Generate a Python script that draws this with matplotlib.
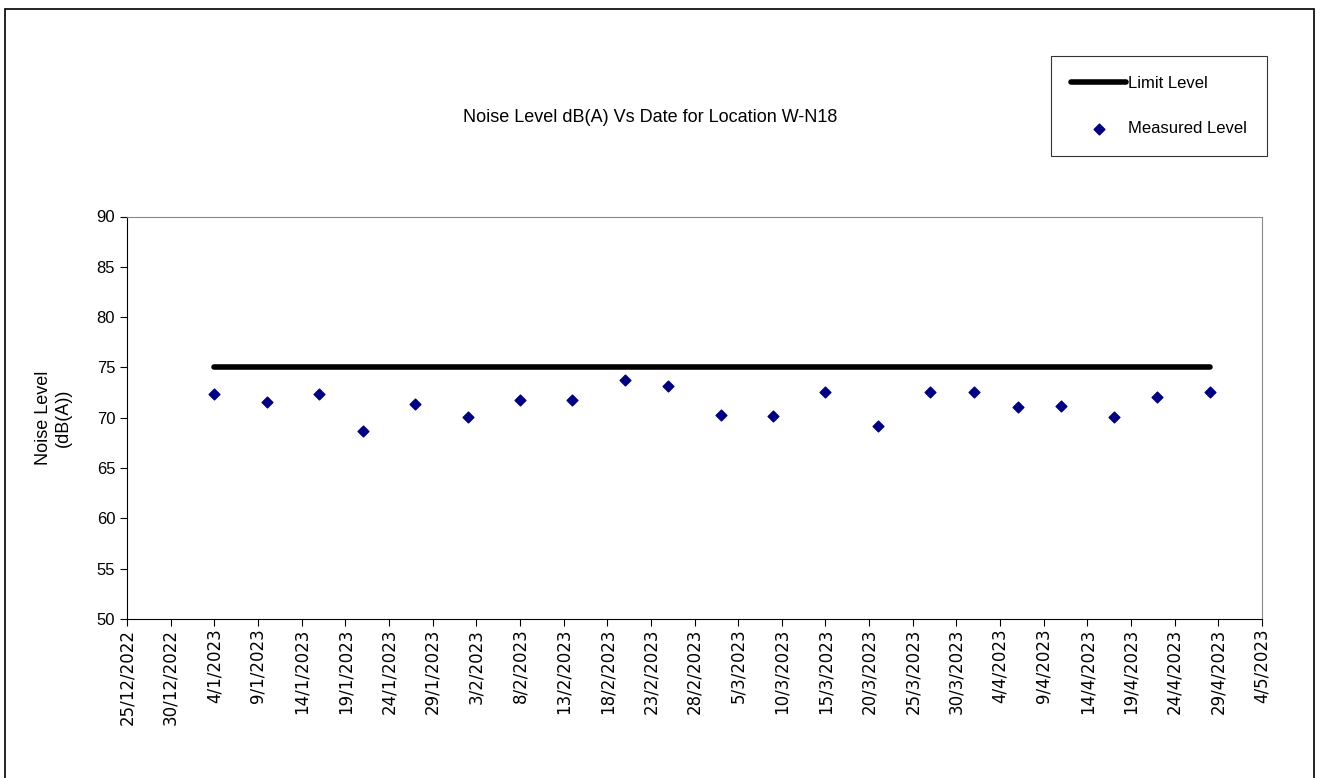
import datetime as dt
import matplotlib
matplotlib.use("Agg")
import matplotlib.pyplot as plt
from matplotlib.patches import Rectangle

plt.rcParams['font.family'] = ['Liberation Sans', 'DejaVu Sans']

# measurement dates (day/month/year)
dates = ['4/1/2023', '10/1/2023', '16/1/2023', '21/1/2023', '27/1/2023',
         '2/2/2023', '8/2/2023', '14/2/2023', '20/2/2023', '25/2/2023',
         '3/3/2023', '9/3/2023', '15/3/2023', '21/3/2023', '27/3/2023',
         '1/4/2023', '6/4/2023', '11/4/2023', '17/4/2023', '22/4/2023',
         '28/4/2023']
measured = [72.4, 71.6, 72.4, 68.7, 71.4, 70.1, 71.8, 71.8, 73.8, 73.2,
            70.3, 70.2, 72.6, 69.2, 72.6, 72.6, 71.1, 71.2, 70.1, 72.1, 72.6]
limit = [75] * len(dates)

x = [dt.datetime.strptime(d, '%d/%m/%Y') for d in dates]
x_start = dt.datetime(2022, 12, 25)
x_end = dt.datetime(2023, 5, 4)

W, H = 1317, 778
fig = plt.figure(figsize=(W / 100, H / 100), dpi=100)

# outer chart border
fig.patches.append(Rectangle((5 / W, -0.01), (1314 - 5) / W, 1 - 9 / H + 0.01,
                             transform=fig.transFigure, fill=False,
                             edgecolor='black', linewidth=1.2))

ax = fig.add_axes([127 / W, 1 - 619 / H, (1262 - 127) / W, (619 - 216.5) / H])

ax.plot(x, limit, color='black', linewidth=4, solid_capstyle='round',
        label='Limit Level')
ax.scatter(x, measured, marker='D', s=30, color='#000080', zorder=3,
           label='Measured Level')

ax.set_xlim(x_start, x_end)
ax.set_ylim(50, 90)
ax.set_yticks(range(50, 91, 5))
ticks = [x_start + dt.timedelta(days=5 * i) for i in range(27)]
ax.set_xticks(ticks)
ax.set_xticklabels([f'{t.day}/{t.month}/{t.year}' for t in ticks],
                   rotation=90, family=['Liberation Sans Narrow', 'DejaVu Sans'],
                   fontsize=12)
ax.tick_params(axis='y', labelsize=12, direction='out', length=5)
ax.tick_params(axis='x', direction='out', length=5, pad=2)

ax.spines['top'].set_color('#888888')
ax.spines['right'].set_color('#888888')
ax.spines['left'].set_color('black')
ax.spines['bottom'].set_color('black')

ax.set_ylabel('Noise Level\n(dB(A))', fontsize=13, labelpad=18)

fig.text(650 / W, 1 - 118 / H, 'Noise Level dB(A) Vs Date for Location W-N18',
         ha='center', va='center', fontsize=13)

leg = ax.legend(loc='upper left', bbox_to_anchor=(1051 / W, 1 - 56 / H),
                bbox_transform=fig.transFigure, borderaxespad=0,
                frameon=True, fancybox=False,
                edgecolor='black', fontsize=12, handlelength=3.3,
                handletextpad=0.1, labelspacing=1.8, borderpad=1.2)
leg.get_frame().set_linewidth(0.8)

fig.savefig('out.png', dpi=100)
